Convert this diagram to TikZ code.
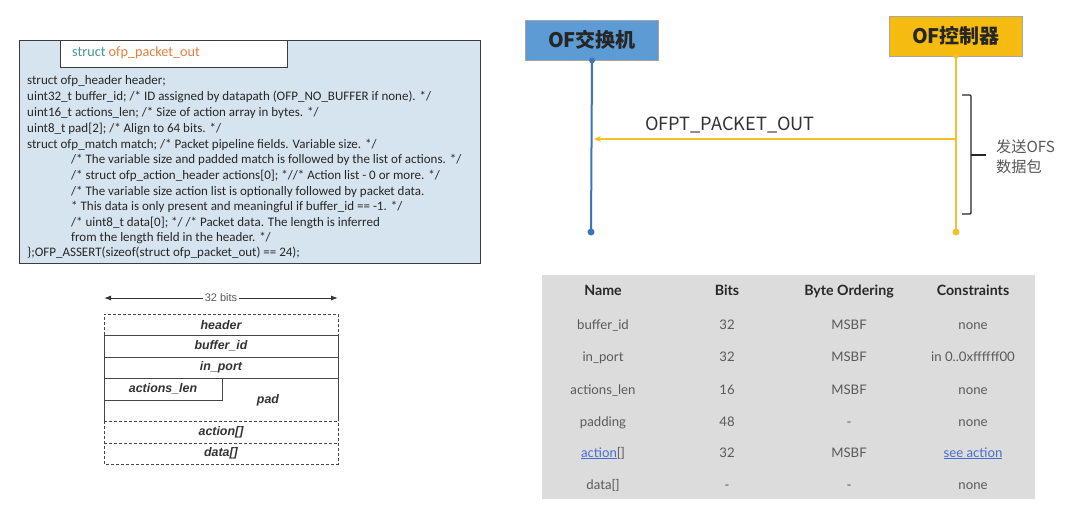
\documentclass[tikz,border=0pt]{standalone}
\usepackage{fontspec}
\setmainfont{Carlito}
\newfontfamily\cjk{Noto Sans CJK SC}
\newfontfamily\arialf{Liberation Sans}
\newfontfamily\latof{Lato}
\usetikzlibrary{arrows.meta}
\definecolor{codebg}{RGB}{214,228,240}
\definecolor{codeborder}{RGB}{60,60,60}
\definecolor{teal}{RGB}{70,150,150}
\definecolor{orng}{RGB}{232,125,60}
\definecolor{swfill}{RGB}{93,155,213}
\definecolor{swline}{RGB}{58,118,184}
\definecolor{ctfill}{RGB}{246,187,16}
\definecolor{ctline}{RGB}{246,192,40}
\definecolor{tblbg}{RGB}{220,220,220}
\definecolor{tbltxt}{RGB}{90,90,90}
\definecolor{tblhead}{RGB}{40,40,40}
\definecolor{linkc}{RGB}{70,110,205}
\definecolor{bitgray}{RGB}{70,70,70}
\tikzset{
  codeline/.style={anchor=west, inner sep=0pt, font=\fontsize{13}{15}\selectfont, text=black!85},
  bitlbl/.style={inner sep=0pt, font=\arialf\bfseries\itshape\fontsize{12.4}{14}\selectfont, text=black!80},
  bitline/.style={line width=0.7pt, draw=bitgray},
  bitdash/.style={line width=0.7pt, draw=bitgray, dash pattern=on 3pt off 2pt},
  tbl/.style={anchor=base, inner sep=0pt, font=\latof\fontsize{13.2}{15}\selectfont, text=tbltxt},
  tblh/.style={anchor=base, inner sep=0pt, font=\latof\bfseries\fontsize{14.2}{16}\selectfont, text=tblhead},
  actor/.style={draw=gray!70, line width=0.8pt, minimum width=133pt, minimum height=40pt, inner sep=0pt, font=\cjk\bfseries\fontsize{20}{22}\selectfont, text=black!85},
  dotc/.style={circle, inner sep=0pt, minimum size=7pt}
}
\begin{document}
\begin{tikzpicture}[x=1pt,y=-1pt]
\useasboundingbox[fill=white] (0,0) rectangle (1073,517);

% ---- code box ----
\node[draw=codeborder, fill=codebg, line width=1pt, minimum width=461pt, minimum height=223pt, anchor=north west, inner sep=0pt] (codebox) at (19,40) {};
\node[draw=codeborder, fill=white, line width=1pt, minimum width=227pt, minimum height=27pt, anchor=north west, inner sep=0pt] (titlebox) at (60,40) {};
\node[anchor=west, inner sep=0pt, font=\fontsize{14.2}{16}\selectfont] (title) at (72,53) {\textcolor{teal}{struct} \textcolor{orng}{ofp\_packet\_out}};

\node[codeline] (c1) at (27,81) {struct ofp\_header header;};
\node[codeline] (c2) at (27,97) {uint32\_t buffer\_id; /* ID assigned by datapath (OFP\_NO\_BUFFER if none). */};
\node[codeline] (c3) at (27,113) {uint16\_t actions\_len; /* Size of action array in bytes. */};
\node[codeline] (c4) at (27,129) {uint8\_t pad[2]; /* Align to 64 bits. */};
\node[codeline] (c5) at (27,145) {struct ofp\_match match; /* Packet pipeline fields. Variable size. */};
\node[codeline] (c6) at (71,160) {/* The variable size and padded match is followed by the list of actions. */};
\node[codeline] (c7) at (71,176) {/* struct ofp\_action\_header actions[0]; *//* Action list - 0 or more. */};
\node[codeline] (c8) at (71,192) {/* The variable size action list is optionally followed by packet data.};
\node[codeline] (c9) at (71,207) {* This data is only present and meaningful if buffer\_id == -1. */};
\node[codeline] (c10) at (71,223) {/* uint8\_t data[0]; */ /* Packet data. The length is inferred};
\node[codeline] (c11) at (71,238) {from the length field in the header. */};
\node[codeline] (c12) at (27,253) {\};OFP\_ASSERT(sizeof(struct ofp\_packet\_out) == 24);};

% ---- bit layout ----
\node[inner sep=2pt, font=\arialf\fontsize{11}{12}\selectfont, text=black!65] (bits) at (221,298) {32 bits};
\coordinate (bl) at (104,298);
\coordinate (br) at (338,298);
\draw[line width=1pt, draw=black!80, -{Latex[length=7pt,width=5pt]}] (bits.west) -- (bl);
\draw[line width=1pt, draw=black!80, -{Latex[length=7pt,width=5pt]}] (bits.east) -- (br);

\draw[bitdash] (104,335) -- (104,314) -- (338,314) -- (338,335);
\draw[bitline] (104,335) rectangle (338,357);
\draw[bitline] (104,357) rectangle (338,378);
\draw[bitline] (104,378) rectangle (222,400);
\draw[bitline] (104,400) -- (104,421);
\draw[bitline] (338,378) -- (338,421);
\draw[bitdash] (104,421) -- (338,421);
\draw[bitdash] (104,421) -- (104,464) -- (338,464) -- (338,421);
\draw[bitdash] (104,443) -- (338,443);

\node[bitlbl] (bheader) at (221,325) {header};
\node[bitlbl] (bbuf) at (221,346) {buffer\_id};
\node[bitlbl] (binport) at (221,367) {in\_port};
\node[bitlbl] (bactlen) at (163,389) {actions\_len};
\node[bitlbl] (bpad) at (268,400) {pad};
\node[bitlbl] (baction) at (221,432) {action[]};
\node[bitlbl] (bdata) at (221,453) {data[]};

% ---- sequence ----
\node[actor, fill=swfill] (sw) at (592,40) {OF交换机};
\node[actor, fill=ctfill] (ct) at (956,36) {OF控制器};

\coordinate (swbot) at (591,232);
\coordinate (ctbot) at (956,232);
\draw[line width=2pt, draw=swline] (sw.south) -- (swbot);
\draw[line width=2pt, draw=ctline] (ct.south) -- (ctbot);
\node[dotc, fill=swline, minimum size=6pt] (swdt) at (sw.south) {};
\node[dotc, fill=swline] (swdb) at (swbot) {};
\node[dotc, fill=ctline, minimum size=5pt] (ctdt) at (ct.south) {};
\node[dotc, fill=ctline] (ctdb) at (ctbot) {};

\coordinate (msgS) at (955,139);
\coordinate (msgE) at (594,139);
\draw[line width=1.6pt, draw=ctline, -{Stealth[length=7pt,width=6pt]}] (msgS) -- (msgE);
\node[inner sep=0pt, font=\cjk\fontsize{18.2}{20}\selectfont, text=black!80] (msgl) at (730,125) {OFPT\_PACKET\_OUT};

\draw[line width=1.2pt, draw=black!85, rounded corners=1pt] (962,95) -- (971,95) -- (971,214) -- (962,214);
\coordinate (brm) at (971,155);
\coordinate (brt) at (986,155);
\draw[line width=1.2pt, draw=black!85] (brm) -- (brt);
\node[anchor=west, inner sep=0pt, align=left, font=\cjk\fontsize{15.2}{20}\selectfont, text=black!65] (brl) at (996,157) {发送OFS\\数据包};

% ---- table ----
\node[fill=tblbg, minimum width=493pt, minimum height=224pt, anchor=north west, inner sep=0pt] (table) at (542,275) {};
\node[tblh] (h1) at (603,295) {Name};
\node[tblh] (h2) at (727,295) {Bits};
\node[tblh] (h3) at (849,295) {Byte Ordering};
\node[tblh] (h4) at (973,295) {Constraints};

\node[tbl] (r1a) at (603,329) {buffer\_id};
\node[tbl] (r1b) at (727,329) {32};
\node[tbl] (r1c) at (849,329) {MSBF};
\node[tbl] (r1d) at (973,329) {none};

\node[tbl] (r2a) at (603,361) {in\_port};
\node[tbl] (r2b) at (727,361) {32};
\node[tbl] (r2c) at (849,361) {MSBF};
\node[tbl] (r2d) at (973,361) {in 0..0xffffff00};

\node[tbl] (r3a) at (603,394) {actions\_len};
\node[tbl] (r3b) at (727,394) {16};
\node[tbl] (r3c) at (849,394) {MSBF};
\node[tbl] (r3d) at (973,394) {none};

\node[tbl] (r4a) at (603,426) {padding};
\node[tbl] (r4b) at (727,426) {48};
\node[tbl] (r4c) at (849,426) {-};
\node[tbl] (r4d) at (973,426) {none};

\node[tbl] (r5a) at (603,457) {\textcolor{linkc}{\underline{action}}[]};
\node[tbl] (r5b) at (727,457) {32};
\node[tbl] (r5c) at (849,457) {MSBF};
\node[tbl] (r5d) at (973,457) {\textcolor{linkc}{\underline{see action}}};

\node[tbl] (r6a) at (603,489) {data[]};
\node[tbl] (r6b) at (727,489) {-};
\node[tbl] (r6c) at (849,489) {-};
\node[tbl] (r6d) at (973,489) {none};
\end{tikzpicture}
\end{document}
